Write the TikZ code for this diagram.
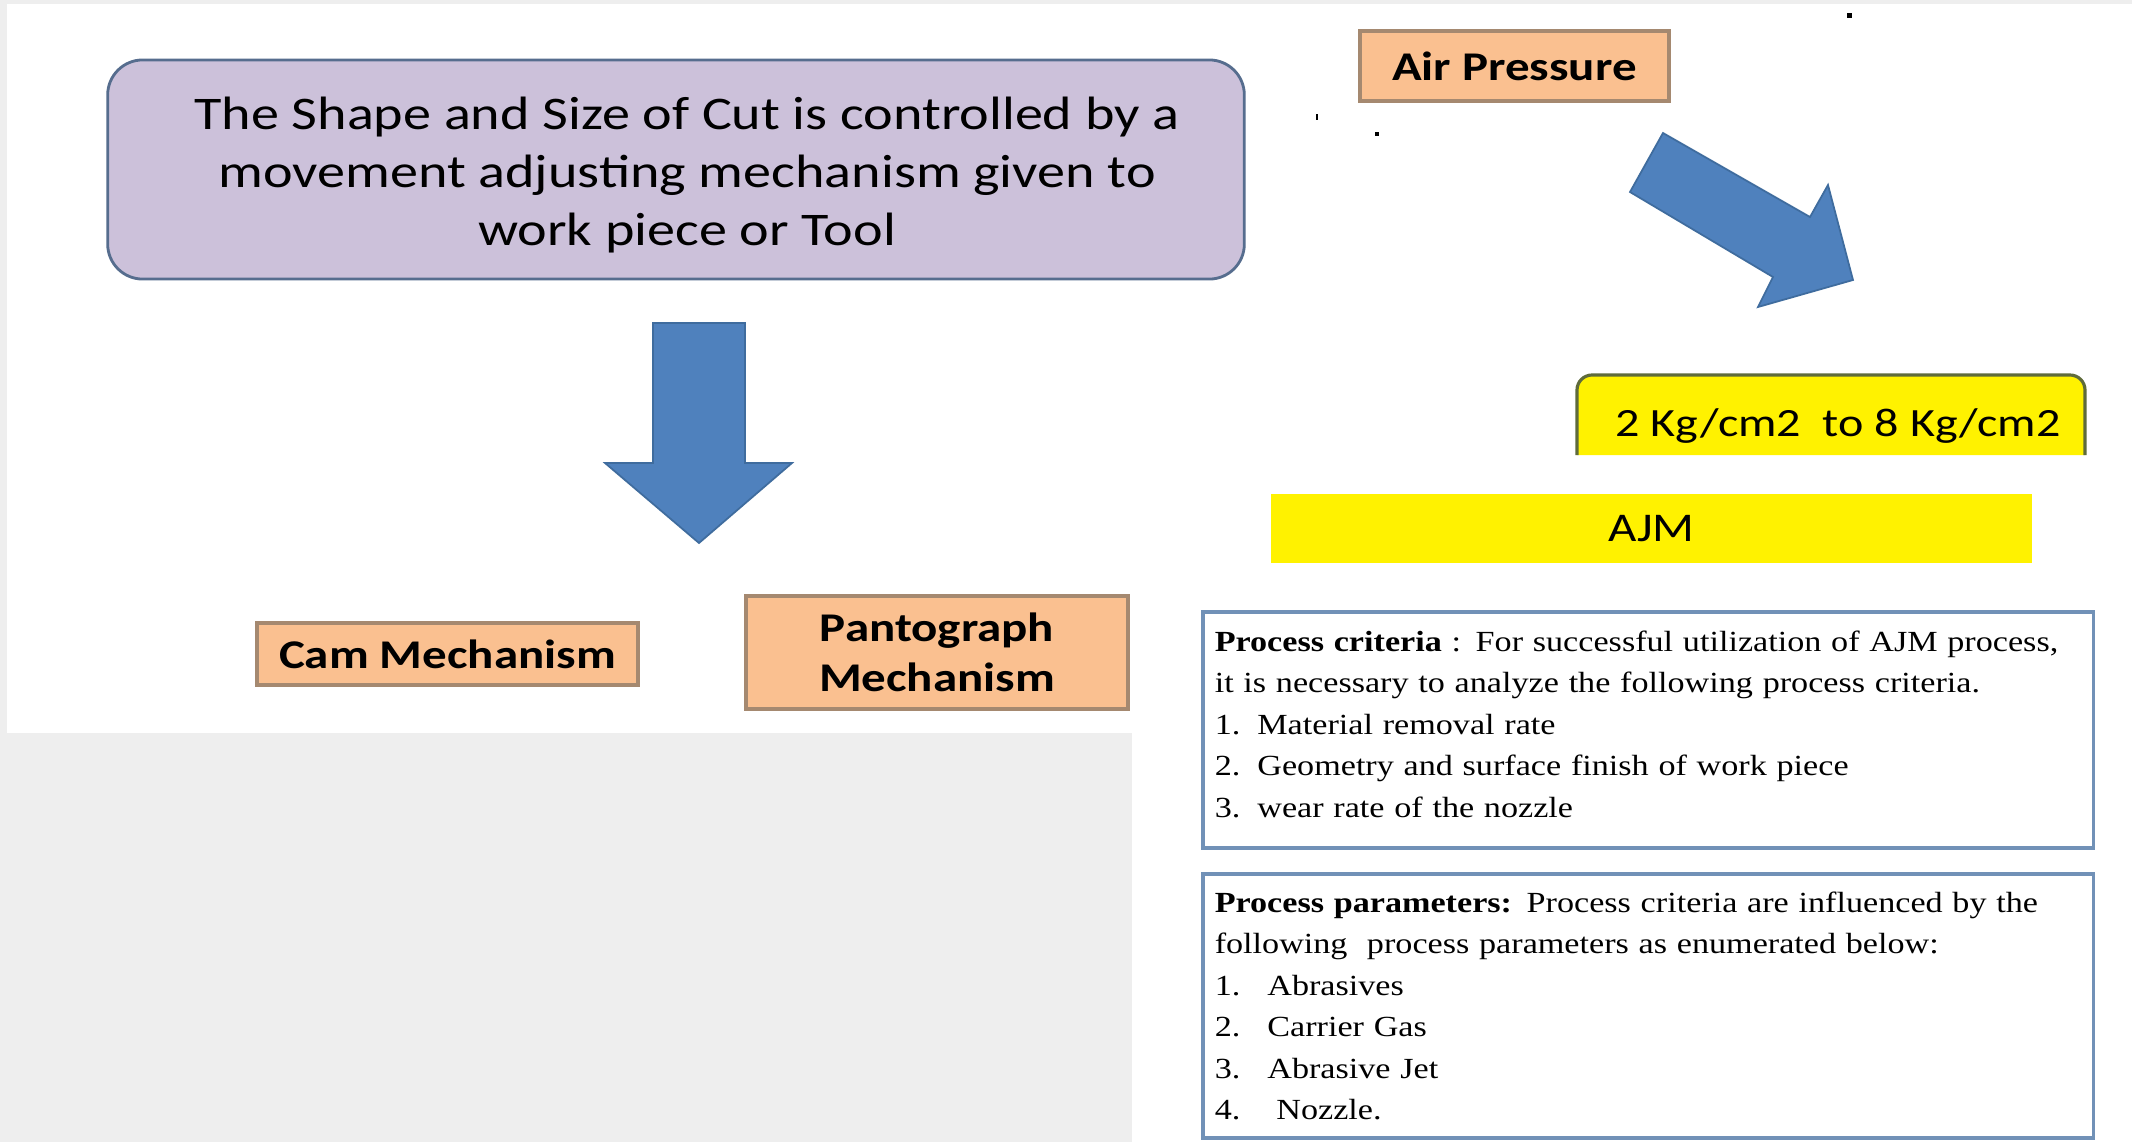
\documentclass[tikz,border=0pt]{standalone}
\usepackage{fontspec}
\setmainfont{Liberation Serif}[FakeStretch=1.17]
\newfontfamily\calfont{Carlito}[FakeStretch=1.2]
\usepackage{xcolor}
\usepackage{tikz}
\definecolor{bgGrey}{HTML}{EEEEEE}
\definecolor{lavender}{HTML}{CCC1DA}
\definecolor{slateEdge}{HTML}{566D8E}
\definecolor{peach}{HTML}{FAC090}
\definecolor{peachEdge}{HTML}{A58970}
\definecolor{arrowBlue}{HTML}{4F81BD}
\definecolor{arrowEdge}{HTML}{3F6C9E}
\definecolor{oliveEdge}{HTML}{5F6B3B}
\definecolor{boxBlue}{HTML}{7191B7}

\begin{document}
\begin{tikzpicture}[x=0.01cm,y=-0.01cm,
  mech/.style={draw=peachEdge,line width=1.1pt,fill=peach,align=center,inner sep=0pt,
    font=\calfont\bfseries\fontsize{11.6}{14.2}\selectfont},
  lead/.style={draw=slateEdge,line width=0.8pt,fill=lavender,rounded corners=0.35cm,
    minimum width=11.36cm,minimum height=2.19cm},
  leadtxt/.style={align=center,inner sep=0pt,font=\calfont\fontsize{13.3}{16.4}\selectfont},
  bar/.style={fill=yellow,inner sep=0pt,font=\calfont\fontsize{11.6}{14}\selectfont},
  infobox/.style={draw=boxBlue,line width=1pt,fill=white,align=left,inner xsep=0.12cm,
    text width=8.66cm,minimum width=8.9cm,font=\fontsize{8.3}{11.8}\selectfont},
  blockarrow/.style={fill=arrowBlue,draw=arrowEdge,line width=0.5pt,line join=miter}]
% page: grey backdrop with the two white panels
\fill[bgGrey] (0,0) rectangle (2132,1142);
\fill[white] (7,4) rectangle (1132,733);
\fill[white] (1132,4) rectangle (2132,1142);
\useasboundingbox (0,0) rectangle (2132,1142);
% stray marks
\fill (1847,13) rectangle (1852,18);
\fill (1316,114) rectangle (1318,120);
\fill (1375,132) rectangle (1379,136);
% left panel: cut control and the two mechanisms
\node[lead] (cut) at (676,169.5) {};
\node[leadtxt] (cuttxt) at (687,175)
   {The Shape and Size of Cut is controlled by a\\ movement adjusting mechanism given to\\ work piece or Tool};
\filldraw[blockarrow] (653,323) -- (745,323) -- (745,463) -- (792,463) -- (699,543)
   -- (605,463) -- (653,463) -- cycle;
\node[mech,minimum width=3.81cm,minimum height=0.62cm] (cam) at (447.5,654) {Cam Mechanism};
\node[mech,minimum width=3.82cm,minimum height=1.13cm] (panto) at (937,652.5) {Pantograph\\Mechanism};
% right panel: air pressure to AJM
\node[mech,minimum width=3.09cm,minimum height=0.70cm] (air) at (1514.5,66) {Air Pressure};
\filldraw[blockarrow] (1663,133) -- (1810,217) -- (1828,185) -- (1853,280) -- (1758,307)
   -- (1773,277) -- (1630,192) -- cycle;
\filldraw[fill=yellow,draw=oliveEdge,line width=0.9pt,rounded corners=0.15cm]
   (1577,455) -- (1577,375) -- (2085,375) -- (2085,455);
\node[anchor=base,inner sep=0pt,font=\calfont\fontsize{11.4}{14}\selectfont] (range)
   at (1838,436) {2 Kg/cm2\ \ to 8 Kg/cm2};
\node[bar,minimum width=7.61cm,minimum height=0.69cm] (ajm) at (1651.5,528.5) {AJM};
% criteria and parameters
\node[infobox,minimum height=2.36cm] (crit) at (1648,730)
   {\textbf{Process criteria} : For successful utilization of AJM process,\\
    it is necessary to analyze the following process criteria.\\
    1.\hspace{0.17cm}Material removal rate\\
    2.\hspace{0.17cm}Geometry and surface finish of work piece\\
    3.\hspace{0.17cm}wear rate of the nozzle\rule[-0.12cm]{0pt}{0pt}};
\node[infobox,minimum height=2.64cm] (param) at (1648,1006)
   {\textbf{Process parameters:} Process criteria are influenced by the\\
    following\ \ process parameters as enumerated below:\\
    1.\hspace{0.27cm}Abrasives\\
    2.\hspace{0.27cm}Carrier Gas\\
    3.\hspace{0.27cm}Abrasive Jet\\
    4.\hspace{0.36cm}Nozzle.};
\end{tikzpicture}
\end{document}
